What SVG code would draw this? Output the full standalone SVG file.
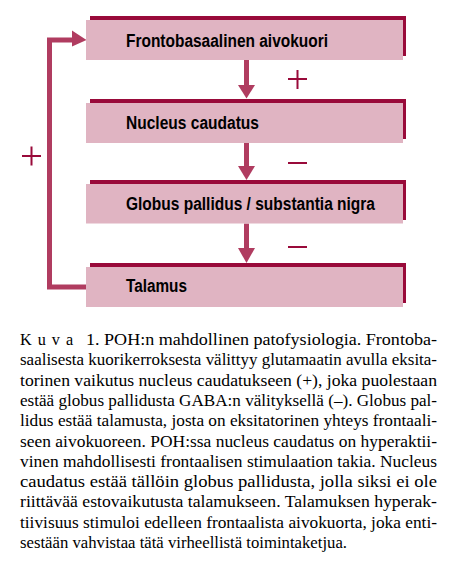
<svg xmlns="http://www.w3.org/2000/svg" width="455" height="563" viewBox="0 0 455 563">
<style>
.shadow{fill:#990a3a}
.box{fill:#e0b4c2}
.lbl{font-family:"Liberation Sans",Arial,sans-serif;font-weight:bold;font-size:18px;fill:#000}
.wire{fill:none;stroke:#b03c60;stroke-width:5}
.head{fill:#b03c60}
.sign{stroke:#990a3a;stroke-width:2;fill:none}
.cap{font-family:"Liberation Serif","Times New Roman",serif;font-size:16.2px;fill:#000}
</style>
<rect width="455" height="563" fill="#fff"/>
<g id="connectors">
  <line class="wire" x1="246.5" y1="60" x2="246.5" y2="86"/>
  <polygon class="head" points="238,85 255,85 246.5,98.5"/>
  <line class="wire" x1="246.5" y1="143" x2="246.5" y2="167"/>
  <polygon class="head" points="238,166 255,166 246.5,180"/>
  <line class="wire" x1="246.5" y1="223.5" x2="246.5" y2="249"/>
  <polygon class="head" points="238,248 255,248 246.5,263"/>
  <polyline class="wire" points="86,287 49.5,287 49.5,40 73,40"/>
  <polygon class="head" points="72,30.5 86.5,40 72,46.5"/>
  <path class="sign" d="M288,79 H307 M297.5,70 V89"/>
  <path class="sign" d="M288,163 H307"/>
  <path class="sign" d="M288,247 H307"/>
  <path class="sign" d="M22,156 H41 M31.5,146.5 V165.5"/>
</g>
<g id="frontobasaalinen">
  <rect class="shadow" x="90" y="16" width="316" height="40"/>
  <rect class="box" x="86" y="20" width="317" height="40"/>
  <text class="lbl" x="126" y="46.5" textLength="202" lengthAdjust="spacingAndGlyphs">Frontobasaalinen aivokuori</text>
</g>
<g id="nucleus">
  <rect class="shadow" x="90" y="99" width="316" height="40"/>
  <rect class="box" x="86" y="103" width="317" height="40"/>
  <text class="lbl" x="126" y="128.5" textLength="133" lengthAdjust="spacingAndGlyphs">Nucleus caudatus</text>
</g>
<g id="globus">
  <rect class="shadow" x="90" y="180" width="316" height="40"/>
  <rect class="box" x="86" y="184" width="317" height="39.5"/>
  <text class="lbl" x="126" y="210" textLength="249" lengthAdjust="spacingAndGlyphs">Globus pallidus / substantia nigra</text>
</g>
<g id="talamus">
  <rect class="shadow" x="90" y="263" width="316" height="40"/>
  <rect class="box" x="86" y="267" width="317" height="40"/>
  <text class="lbl" x="126" y="292" textLength="61" lengthAdjust="spacingAndGlyphs">Talamus</text>
</g>
<g id="caption" class="cap">
  <text x="20" y="345" letter-spacing="6">Kuva</text>
  <text x="86" y="345" textLength="351" lengthAdjust="spacingAndGlyphs">1. POH:n mahdollinen patofysiologia. Frontoba-</text>
  <text x="20" y="365.3" textLength="417" lengthAdjust="spacingAndGlyphs">saalisesta kuorikerroksesta välittyy glutamaatin avulla eksita-</text>
  <text x="20" y="385.6" textLength="417" lengthAdjust="spacingAndGlyphs">torinen vaikutus nucleus caudatukseen (+), joka puolestaan</text>
  <text x="20" y="405.9" textLength="417" lengthAdjust="spacingAndGlyphs">estää globus pallidusta GABA:n välityksellä (–). Globus pal-</text>
  <text x="20" y="426.2" textLength="417" lengthAdjust="spacingAndGlyphs">lidus estää talamusta, josta on eksitatorinen yhteys frontaali-</text>
  <text x="20" y="446.5" textLength="417" lengthAdjust="spacingAndGlyphs">seen aivokuoreen. POH:ssa nucleus caudatus on hyperaktii-</text>
  <text x="20" y="466.8" textLength="417" lengthAdjust="spacingAndGlyphs">vinen mahdollisesti frontaalisen stimulaation takia. Nucleus</text>
  <text x="20" y="487.1" textLength="417" lengthAdjust="spacingAndGlyphs">caudatus estää tällöin globus pallidusta, jolla siksi ei ole</text>
  <text x="20" y="507.4" textLength="417" lengthAdjust="spacingAndGlyphs">riittävää estovaikutusta talamukseen. Talamuksen hyperak-</text>
  <text x="20" y="527.7" textLength="417" lengthAdjust="spacingAndGlyphs">tiivisuus stimuloi edelleen frontaalista aivokuorta, joka enti-</text>
  <text x="20" y="548" textLength="327" lengthAdjust="spacingAndGlyphs">sestään vahvistaa tätä virheellistä toimintaketjua.</text>
</g>
</svg>
